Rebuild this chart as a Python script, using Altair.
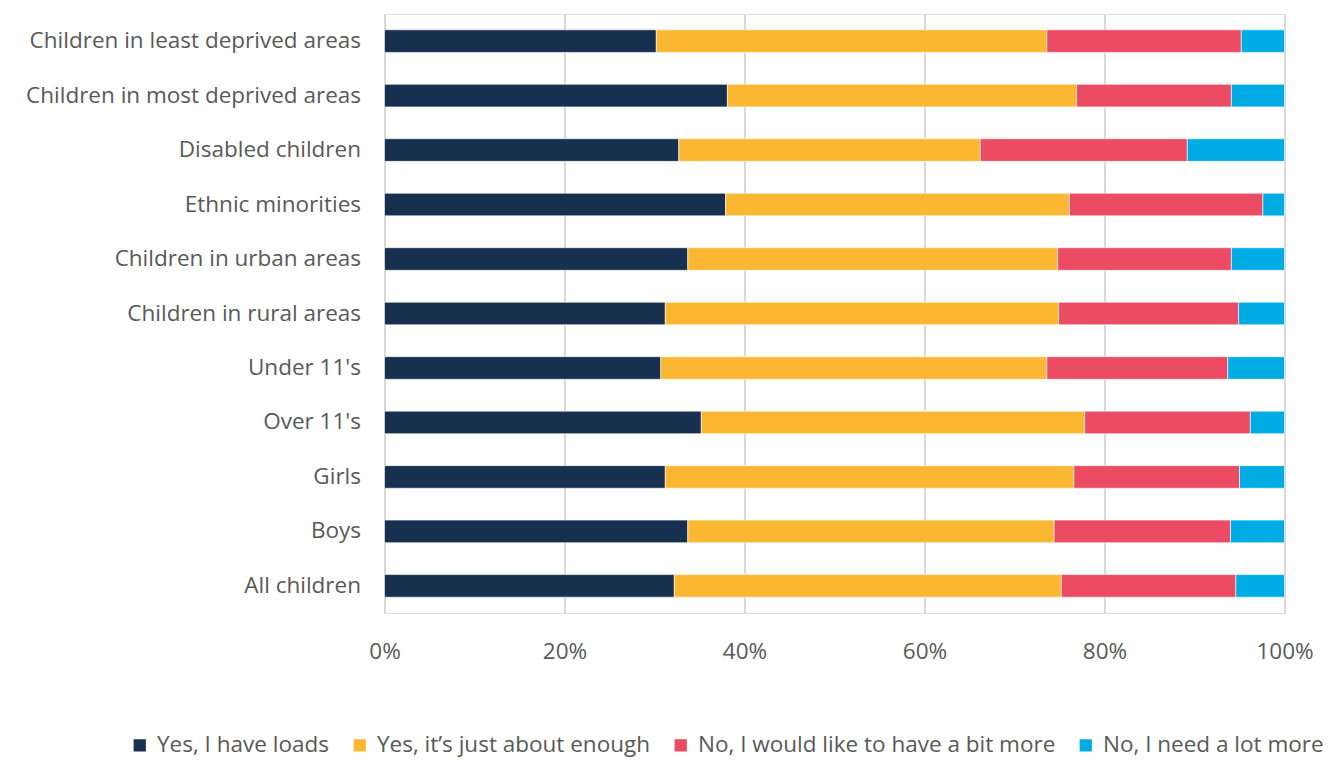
import altair as alt
import pandas as pd

categories = [
    "Children in least deprived areas",
    "Children in most deprived areas",
    "Disabled children",
    "Ethnic minorities",
    "Children in urban areas",
    "Children in rural areas",
    "Under 11's",
    "Over 11's",
    "Girls",
    "Boys",
    "All children",
]
series = [
    "Yes, I have loads",
    "Yes, it\u2019s just about enough",
    "No, I would like to have a bit more",
    "No, I need a lot more",
]
colors = ["#17304F", "#FBB731", "#EB4B63", "#00ACE3"]

loads = [30.2, 38.1, 32.7, 37.9, 33.7, 31.2, 30.7, 35.2, 31.2, 33.7, 32.2]
enough = [43.4, 38.8, 33.5, 38.2, 41.1, 43.7, 42.9, 42.6, 45.4, 40.7, 43.0]
bit_more = [21.6, 17.2, 23.0, 21.5, 19.3, 20.0, 20.1, 18.4, 18.4, 19.6, 19.4]
lot_more = [4.8, 5.9, 10.8, 2.4, 5.9, 5.1, 6.3, 3.8, 5.0, 6.0, 5.4]

rows = []
for vals, s_idx in zip([loads, enough, bit_more, lot_more], range(4)):
    for c, v in zip(categories, vals):
        rows.append({"category": c, "series": series[s_idx], "order": s_idx, "value": v})
df = pd.DataFrame(rows)

FONT = "Open Sans"
GREY = "#595959"
FS = 22.5

chart = (
    alt.Chart(df)
    .mark_bar(stroke="white", strokeWidth=0.6)
    .encode(
        y=alt.Y(
            "category:N",
            sort=categories,
            title=None,
            scale=alt.Scale(paddingInner=0.585, paddingOuter=0.29),
            axis=alt.Axis(
                ticks=False,
                domain=False,
                labelFontSize=FS,
                labelColor=GREY,
                labelFont=FONT,
                labelPadding=24,
                labelLimit=400,
            ),
        ),
        x=alt.X(
            "value:Q",
            stack="normalize",
            title=None,
            scale=alt.Scale(domain=[0, 1]),
            axis=alt.Axis(
                format=".0%",
                values=[0, 0.2, 0.4, 0.6, 0.8, 1.0],
                ticks=False,
                domain=False,
                grid=True,
                gridColor="#D9D9D9",
                gridWidth=2,
                labelFlush=False,
                labelFontSize=FS,
                labelColor=GREY,
                labelFont=FONT,
                labelPadding=27,
            ),
        ),
        color=alt.Color(
            "series:N",
            sort=series,
            scale=alt.Scale(domain=series, range=colors),
            legend=alt.Legend(
                title=None,
                orient="none",
                direction="horizontal",
                legendX=-256,
                legendY=720,
                symbolType="square",
                symbolSize=150,
                symbolStrokeWidth=0,
                symbolOpacity=1,
                labelFontSize=FS,
                labelFont=FONT,
                labelColor=GREY,
                labelOffset=6,
                columnPadding=19,
                labelLimit=500,
            ),
        ),
        order=alt.Order("order:Q", sort="ascending"),
        tooltip=["category", "series", "value"],
    )
    .properties(width=900, height=599)
    .configure_view(strokeWidth=0, stroke="transparent")
    .configure(
        autosize=alt.AutoSizeParams(type="none"),
        padding={"left": 384.5, "top": 14, "right": 53, "bottom": 147},
    )
)

chart.save("out.html", embed_options={"renderer": "svg", "actions": False})
